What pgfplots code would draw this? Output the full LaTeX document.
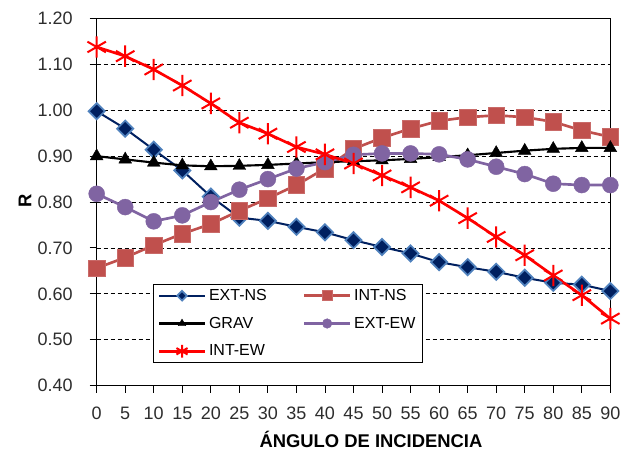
\documentclass[border=0pt]{standalone}
\usepackage{fontspec}
\setmainfont{Liberation Sans}
\usepackage{pgfplots}
\pgfplotsset{compat=1.18}
\definecolor{navy}{RGB}{0,32,96}
\definecolor{ltblue}{RGB}{79,129,189}
\definecolor{brick}{RGB}{192,80,77}
\definecolor{purp}{RGB}{128,100,162}
\definecolor{tickgray}{RGB}{45,45,45}
\begin{document}
\begin{tikzpicture}
\begin{axis}[
  scale only axis, width=385.2pt, height=275.25pt,
  xmin=0, xmax=90, ymin=0.4, ymax=1.2,
  xtick={0,5,10,15,20,25,30,35,40,45,50,55,60,65,70,75,80,85,90},
  ytick={0.4,0.5,0.6,0.7,0.8,0.9,1.0,1.1,1.2},
  /pgf/number format/assume math mode=true,
  yticklabel style={/pgf/number format/.cd, fixed, fixed zerofill, precision=2, /tikz/.cd},
  ticklabel style={font=\fontsize{13.5}{16}\selectfont, text=tickgray},
  yticklabel style={anchor=east, inner sep=0pt, xshift=-12.5pt},
  xticklabel style={anchor=north, inner sep=0pt, yshift=-10.7pt},
  tick align=outside, xtick pos=bottom, ytick pos=left,
  major tick length=5.25pt,
  tick style={black, line width=0.7pt},
  axis line style={black, line width=0.8pt},
  ymajorgrids,
  major grid style={black, line width=0.6pt, dash pattern=on 3pt off 2.25pt},
  clip=false,
  xlabel={ÁNGULO DE INCIDENCIA},
  xlabel style={font=\fontsize{13.8}{16}\selectfont\bfseries, at={(axis description cs:0.534,-0.1698)}, anchor=base},
  ylabel={R},
  ylabel style={font=\fontsize{13.8}{16}\selectfont\bfseries, at={(axis description cs:-0.1396,0.504)}, anchor=center},
  legend image code/.code={\draw[mark repeat=2, mark phase=2, #1, /tikz/every mark/.append style={scale=0.6}] plot coordinates {(0pt,0pt) (17.25pt,0pt) (34.5pt,0pt)};},
  legend style={at={(0.110,0.277)}, anchor=north west, draw=black, line width=0.75pt,
    font=\fontsize{12}{14}\selectfont, inner xsep=3pt, inner ysep=1.5pt, row sep=7pt,
    /tikz/every even column/.append style={column sep=25pt}},
  legend columns=2, legend cell align=left,
]
\addplot[navy, line width=1.5pt, mark=square*, mark size=4.3pt,
  mark options={fill=navy, draw=ltblue, line width=1.3pt, rotate=45}] coordinates {
(0,0.998) (5,0.960) (10,0.914) (15,0.869) (20,0.812) (25,0.766) (30,0.759)
(35,0.746) (40,0.734) (45,0.717) (50,0.702) (55,0.688) (60,0.669) (65,0.658)
(70,0.648) (75,0.635) (80,0.624) (85,0.620) (90,0.606)};
\addlegendentry{EXT-NS}
\addplot[brick, line width=2pt, mark=square*, mark size=6.2pt,
  mark options={fill=brick, draw=brick!85!white, line width=0.5pt}] coordinates {
(0,0.656) (5,0.679) (10,0.706) (15,0.731) (20,0.752) (25,0.781) (30,0.808)
(35,0.837) (40,0.873) (45,0.916) (50,0.940) (55,0.960) (60,0.977) (65,0.985)
(70,0.989) (75,0.985) (80,0.975) (85,0.956) (90,0.942)};
\addlegendentry{INT-NS}
\addplot[black, line width=1.6pt, mark=triangle*, mark size=5.5pt,
  mark options={fill=black, line width=0.3pt}] coordinates {
(0,0.900) (5,0.893) (10,0.886) (15,0.880) (20,0.878) (25,0.879) (30,0.881)
(35,0.884) (40,0.887) (45,0.889) (50,0.891) (55,0.894) (60,0.898) (65,0.902)
(70,0.907) (75,0.912) (80,0.916) (85,0.918) (90,0.918)};
\addlegendentry{GRAV}
\addplot[purp, line width=2pt, mark=*, mark size=6pt,
  mark options={fill=purp, draw=purp, line width=0.3pt}] coordinates {
(0,0.818) (5,0.789) (10,0.758) (15,0.771) (20,0.800) (25,0.827) (30,0.850)
(35,0.873) (40,0.887) (45,0.903) (50,0.906) (55,0.906) (60,0.904) (65,0.893)
(70,0.877) (75,0.861) (80,0.840) (85,0.837) (90,0.837)};
\addlegendentry{EXT-EW}
\addplot[red, line width=2pt, mark=asterisk, mark size=8pt,
  mark options={line width=1.5pt}] coordinates {
(0,1.138) (5,1.118) (10,1.089) (15,1.054) (20,1.015) (25,0.973) (30,0.949)
(35,0.920) (40,0.904) (45,0.884) (50,0.858) (55,0.832) (60,0.803) (65,0.765)
(70,0.724) (75,0.684) (80,0.640) (85,0.597) (90,0.546)};
\addlegendentry{INT-EW}
\end{axis}
\pgfresetboundingbox
\path[use as bounding box] (-72.5pt,-48.2pt) rectangle (397.7pt,289.15pt);
\end{tikzpicture}
\end{document}
